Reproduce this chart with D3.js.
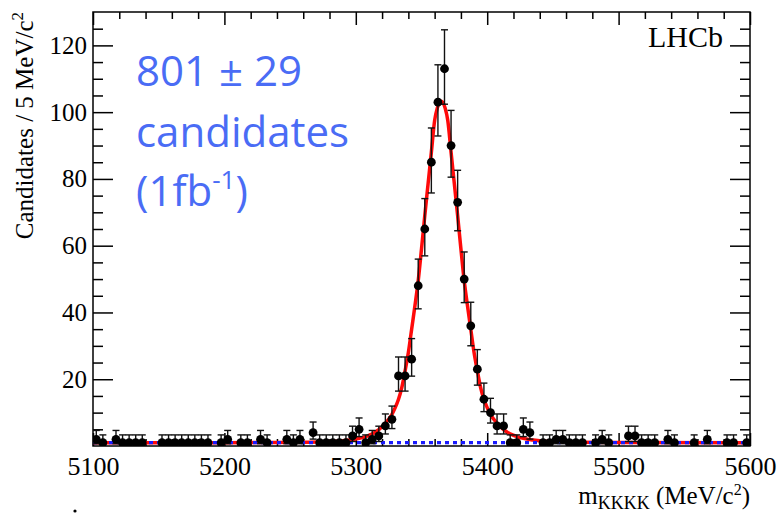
<!DOCTYPE html>
<html>
<head>
<meta charset="utf-8">
<script src="https://cdn.jsdelivr.net/npm/d3@7"></script>
<style>
  html, body { margin: 0; padding: 0; background: #ffffff; }
  svg { display: block; }
</style>
</head>
<body>
<div id="chart"></div>
<script>
// ---------------- data ----------------
// bin centres (MeV/c^2, 5 MeV bins) of non-empty bins and their candidate counts
const binMass = [5102.5, 5107.5, 5117.5, 5122.5, 5127.5, 5132.5, 5137.5,
  5152.5, 5157.5, 5162.5, 5167.5, 5172.5, 5177.5, 5182.5, 5187.5,
  5197.5, 5202.5, 5212.5, 5217.5, 5227.5, 5232.5,
  5247.5, 5252.5, 5257.5, 5267.5, 5272.5, 5277.5, 5282.5, 5287.5, 5292.5, 5297.5,
  5302.5, 5307.5, 5312.5, 5317.5, 5322.5, 5327.5, 5332.5, 5337.5, 5342.5, 5347.5,
  5352.5, 5357.5, 5362.5, 5367.5, 5372.5, 5377.5, 5382.5, 5387.5, 5392.5, 5397.5,
  5402.5, 5407.5, 5412.5, 5417.5, 5422.5, 5427.5, 5432.5, 5442.5, 5447.5,
  5452.5, 5457.5, 5462.5, 5467.5, 5472.5, 5482.5, 5487.5, 5492.5,
  5507.5, 5512.5, 5517.5, 5522.5, 5527.5, 5537.5, 5542.5,
  5557.5, 5567.5, 5582.5, 5587.5, 5597.5];
const binCount = [2, 1, 2, 1, 1, 1, 1,
  1, 1, 1, 1, 1, 1, 1, 1,
  1, 2, 1, 1, 2, 1,
  2, 1, 2, 4, 1, 1, 1, 1, 1, 3,
  5, 1, 2, 3, 6, 8, 21, 21, 26, 48,
  65, 85, 103, 113, 90, 73, 50, 36, 23, 14,
  10, 6, 6, 1, 1, 5, 4, 1, 1,
  2, 2, 1, 1, 1, 1, 2, 1,
  3, 3, 1, 1, 1, 2, 1,
  1, 2, 1, 1, 1];

// total fit (signal + background)
const fitMass = [5100, 5200, 5230, 5265, 5285, 5295, 5305, 5315, 5320, 5325, 5327.5,
  5330, 5332.5, 5335, 5337.5, 5340, 5342.5, 5345, 5347.5, 5350, 5352.5, 5355, 5357.5,
  5360, 5362, 5365, 5368, 5370, 5372.5, 5375, 5377.5, 5380, 5382.5, 5385, 5387.5,
  5390, 5392.5, 5395, 5397.5, 5400, 5402.5, 5405, 5410, 5415, 5425, 5435, 5445,
  5465, 5500, 5600];
const fitValue = [1.0, 1.0, 1.05, 1.15, 1.4, 1.8, 2.5, 4.2, 5.8, 8.0, 9.5,
  11.5, 14, 17.5, 22.5, 28, 35, 42, 49.5, 59, 69, 78.5, 88,
  97.5, 101.2, 103.3, 101.2, 97.5, 88, 78.5, 69, 59, 49.5, 42, 35,
  28, 22.5, 17.5, 14, 11.5, 9.5, 8.0, 5.8, 4.2, 2.5, 1.8, 1.4,
  1.15, 1.05, 1.0];

// background component
const bkgMass = [5100, 5600];
const bkgValue = [1.0, 1.0];

// axis ticks
const xMajorTicks = [5100, 5200, 5300, 5400, 5500, 5600];
const yMajorTicks = [20, 40, 60, 80, 100, 120];

// ---------------- layout ----------------
const W = 779, H = 514;
const plot = { left: 93, right: 750, top: 12, bottom: 446 };

const svg = d3.select("#chart").append("svg")
  .attr("width", W).attr("height", H)
  .style("background", "#ffffff");

const x = d3.scaleLinear().domain([5100, 5600]).range([plot.left, plot.right]);
const y = d3.scaleLinear().domain([0, 130]).range([plot.bottom, plot.top]);

const xMinorTicks = d3.range(5100, 5601, 20).filter(v => !xMajorTicks.includes(v));
const yMinorTicks = d3.range(5, 130, 5).filter(v => v % 20 !== 0);

const serif = "'Liberation Serif', 'Times New Roman', serif";

function styleAxis(g) {
  g.select(".domain").remove();
  g.selectAll(".tick line").attr("stroke", "#000").attr("stroke-width", 1.5);
}

// left axis (labels)
svg.append("g").attr("transform", `translate(${plot.left},0)`)
  .call(d3.axisLeft(y).tickValues(yMajorTicks).tickSize(-20).tickPadding(6).tickFormat(d3.format("d")))
  .call(styleAxis)
  .call(g => g.selectAll("text").attr("font-family", serif).attr("font-size", 25).attr("fill", "#000"));
svg.append("g").attr("transform", `translate(${plot.left},0)`)
  .call(d3.axisLeft(y).tickValues(yMinorTicks).tickSize(-10).tickFormat(""))
  .call(styleAxis);
// right axis
svg.append("g").attr("transform", `translate(${plot.right},0)`)
  .call(d3.axisRight(y).tickValues(yMajorTicks).tickSize(-20).tickFormat(""))
  .call(styleAxis);
svg.append("g").attr("transform", `translate(${plot.right},0)`)
  .call(d3.axisRight(y).tickValues(yMinorTicks).tickSize(-10).tickFormat(""))
  .call(styleAxis);
// bottom axis (labels)
svg.append("g").attr("transform", `translate(0,${plot.bottom})`)
  .call(d3.axisBottom(x).tickValues(xMajorTicks).tickSize(-13).tickFormat(d3.format("d")))
  .call(styleAxis)
  .call(g => g.selectAll("text").attr("font-family", serif).attr("font-size", 26)
    .attr("fill", "#000").attr("y", 29).attr("dy", 0));
svg.append("g").attr("transform", `translate(0,${plot.bottom})`)
  .call(d3.axisBottom(x).tickValues(xMinorTicks).tickSize(-7).tickFormat(""))
  .call(styleAxis);
// top axis
svg.append("g").attr("transform", `translate(0,${plot.top})`)
  .call(d3.axisTop(x).tickValues(xMajorTicks).tickSize(-13).tickFormat(""))
  .call(styleAxis);
svg.append("g").attr("transform", `translate(0,${plot.top})`)
  .call(d3.axisTop(x).tickValues(xMinorTicks).tickSize(-7).tickFormat(""))
  .call(styleAxis);

// frame
svg.append("rect")
  .attr("x", plot.left).attr("y", plot.top)
  .attr("width", plot.right - plot.left).attr("height", plot.bottom - plot.top)
  .attr("fill", "none").attr("stroke", "#000").attr("stroke-width", 1.5);

// clip
svg.append("clipPath").attr("id", "clip").append("rect")
  .attr("x", plot.left).attr("y", plot.top)
  .attr("width", plot.right - plot.left).attr("height", plot.bottom - plot.top);

const layer = svg.append("g").attr("clip-path", "url(#clip)");

// fit curve
const fitLine = d3.line().x(d => x(d[0])).y(d => y(d[1])).curve(d3.curveMonotoneX);
layer.append("path")
  .datum(fitMass.map((m, i) => [m, fitValue[i]]))
  .attr("d", fitLine)
  .attr("fill", "none").attr("stroke", "#ff0a0a").attr("stroke-width", 3.5);

// background
layer.append("path")
  .datum(bkgMass.map((m, i) => [m, bkgValue[i]]))
  .attr("d", d3.line().x(d => x(d[0])).y(d => y(d[1])))
  .attr("fill", "none").attr("stroke", "#1a1aff").attr("stroke-width", 3.4)
  .attr("stroke-dasharray", "4,4");

// data points with Poisson-like error bars
const pts = binMass.map((m, i) => ({ m, n: binCount[i] }));
const errLo = n => n - Math.sqrt(n - 0.25);
const errHi = n => n + Math.sqrt(n + 0.75) + 1;
const cap = 3.5;
const eb = layer.append("g").attr("stroke", "#111").attr("stroke-width", 1.4);
pts.forEach(p => {
  const cx = x(p.m);
  eb.append("line").attr("x1", cx).attr("x2", cx).attr("y1", y(errLo(p.n))).attr("y2", y(errHi(p.n)));
  eb.append("line").attr("x1", cx - cap).attr("x2", cx + cap).attr("y1", y(errHi(p.n))).attr("y2", y(errHi(p.n)));
  eb.append("line").attr("x1", cx - cap).attr("x2", cx + cap).attr("y1", y(errLo(p.n))).attr("y2", y(errLo(p.n)));
});
layer.append("g").selectAll("circle").data(pts).join("circle")
  .attr("cx", d => x(d.m)).attr("cy", d => y(d.n)).attr("r", 4.4).attr("fill", "#000");

// axis titles
svg.append("text")
  .attr("transform", `translate(33,${plot.top}) rotate(-90)`)
  .attr("text-anchor", "end")
  .attr("font-family", serif).attr("font-size", 25).attr("fill", "#000")
  .call(t => {
    t.append("tspan").text("Candidates / 5 MeV/c");
    t.append("tspan").attr("font-size", 17).attr("dy", -10).text("2");
  });

svg.append("text")
  .attr("x", plot.right).attr("y", 504)
  .attr("text-anchor", "end")
  .attr("font-family", serif).attr("font-size", 25).attr("fill", "#000")
  .call(t => {
    t.append("tspan").text("m");
    t.append("tspan").attr("font-size", 18).attr("dy", 5).text("KKKK");
    t.append("tspan").attr("dy", -5).text(" (MeV/c");
    t.append("tspan").attr("font-size", 16).attr("dy", -9).text("2");
    t.append("tspan").attr("dy", 9).text(")");
  });

// LHCb label
svg.append("text")
  .attr("x", 723).attr("y", 47).attr("text-anchor", "end")
  .attr("font-family", serif).attr("font-size", 30).attr("fill", "#000")
  .text("LHCb");

// yield annotation
const blue = "#4a6cf5";
const ann = svg.append("g").attr("font-family", "'Open Sans', 'Noto Sans', sans-serif")
  .attr("font-size", 42).attr("fill", blue);
ann.append("text").attr("x", 136).attr("y", 86).text("801 ± 29");
ann.append("text").attr("x", 136).attr("y", 147).text("candidates");
ann.append("text").attr("x", 136).attr("y", 206)
  .call(t => {
    t.append("tspan").text("(1fb");
    t.append("tspan").attr("font-size", 26).attr("dy", -17).text("-1");
    t.append("tspan").attr("dy", 17).text(")");
  });

// stray mark at bottom-left of the original picture
svg.append("circle").attr("cx", 75).attr("cy", 511).attr("r", 1.6).attr("fill", "#000");
</script>
</body>
</html>
